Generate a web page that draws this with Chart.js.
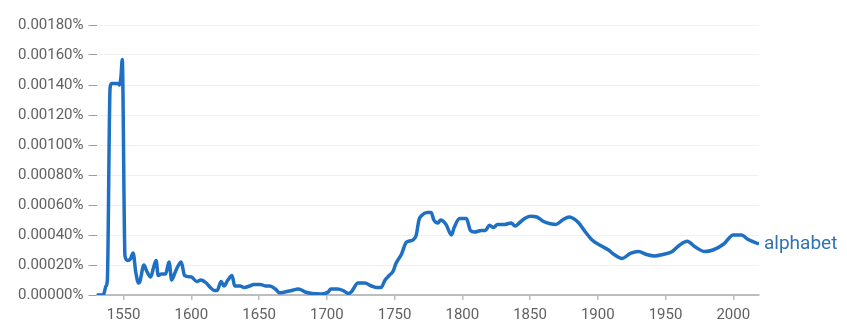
<!DOCTYPE html>
<html>
<head>
<meta charset="utf-8">
<script src="https://cdn.jsdelivr.net/npm/chart.js@4"></script>
<style>
  html, body { margin: 0; padding: 0; background: #fff; }
  #wrap { width: 847px; height: 335px; }
</style>
</head>
<body>
<div id="wrap"><canvas id="ngramChart"></canvas></div>
<script>
var seriesName = 'alphabet';

var years = [1530, 1535, 1537, 1538, 1540, 1541, 1546, 1547, 1548, 1549, 1551, 1553, 1555, 1557, 1559,
    1561, 1562, 1565, 1567, 1570, 1572, 1574, 1575.5, 1578, 1581, 1583.5, 1585.5, 1588, 1590, 1592.5,
    1595, 1600, 1604, 1607, 1611, 1614, 1617, 1619, 1622, 1624, 1627, 1630, 1632, 1636, 1639,
    1643, 1646, 1651, 1655, 1658, 1662, 1665, 1669, 1674, 1679, 1684, 1689, 1696, 1701, 1703,
    1708, 1712, 1716, 1718, 1723, 1728, 1733, 1737, 1740, 1743, 1746, 1749, 1751, 1755, 1758.5,
    1761, 1764, 1766, 1768, 1770, 1774, 1777, 1779, 1782, 1784, 1788, 1792, 1794, 1798, 1803,
    1806, 1809, 1814, 1817, 1820, 1823, 1826, 1831, 1836, 1839, 1842, 1846, 1850, 1855, 1860,
    1865, 1869, 1874, 1879, 1882, 1886, 1890, 1896, 1902, 1908, 1912, 1918, 1924, 1930, 1936,
    1942, 1948, 1955, 1960, 1966, 1972, 1979, 1985, 1993, 2000, 2006, 2011, 2019];

// percent values
var values = [0.0, 0.0, 0.00006, 0.0001, 0.00138, 0.00141, 0.00141, 0.0014, 0.00145, 0.00157, 0.00026, 0.00023, 0.00024, 0.00028, 0.00015,
    0.00008, 0.00009, 0.0002, 0.00016, 0.00012, 0.00018, 0.00023, 0.00013, 0.00014, 0.00014, 0.00022, 0.0001, 0.00015, 0.00019, 0.00022,
    0.00013, 0.00012, 0.00009, 0.0001, 0.00008, 0.00005, 0.00003, 0.00003, 0.00009, 0.00006, 0.0001, 0.00013, 0.00006, 0.00006, 0.00005,
    0.00006, 0.00007, 0.00007, 0.00006, 0.00006, 0.00004, 0.000015, 0.00002, 0.00003, 0.00004, 0.00002, 0.00001, 0.000007, 0.00002, 0.00004,
    0.00004, 0.00003, 0.00001, 0.00002, 0.00008, 0.00008, 0.00006, 0.00005, 0.00005, 0.0001, 0.00013, 0.00016, 0.00021, 0.00027, 0.00035,
    0.00036, 0.00037, 0.0004, 0.0005, 0.00053, 0.00055, 0.00055, 0.0005, 0.00048, 0.0005, 0.00047, 0.0004, 0.00045, 0.00051, 0.00051,
    0.00043, 0.00042, 0.00043, 0.00043, 0.000465, 0.00045, 0.00047, 0.00047, 0.00048, 0.00046, 0.00048, 0.00051, 0.000525, 0.00052, 0.00049,
    0.000475, 0.00047, 0.0005, 0.00052, 0.00051, 0.00048, 0.00043, 0.000365, 0.00033, 0.0003, 0.00027, 0.000244, 0.000277, 0.00029, 0.00027,
    0.00026, 0.00027, 0.00029, 0.00033, 0.000358, 0.00032, 0.00029, 0.0003, 0.00034, 0.0004, 0.0004, 0.00037, 0.00034];

var xTicks = [1550, 1600, 1650, 1700, 1750, 1800, 1850, 1900, 1950, 2000];
var yTicks = [0, 0.0002, 0.0004, 0.0006, 0.0008, 0.001, 0.0012, 0.0014, 0.0016, 0.0018];

var lineColor = '#1f6fc3';
var textGray = '#616161';

// series name drawn at the end of the line
var endLabel = {
    id: 'endLabel',
    afterDatasetsDraw: function(chart) {
        var meta = chart.getDatasetMeta(0);
        var last = meta.data[meta.data.length - 1];
        var ctx = chart.ctx;
        ctx.save();
        ctx.font = '19px Roboto';
        ctx.fillStyle = '#2f72b8';
        ctx.textAlign = 'left';
        ctx.textBaseline = 'middle';
        ctx.fillText(seriesName, last.x + 5, last.y);
        ctx.restore();
    }
};

new Chart(document.getElementById('ngramChart').getContext('2d'), {
    type: 'line',
    data: {
        datasets: [{
            label: seriesName,
            data: years.map(function(y, i) { return {x: y, y: values[i]}; }),
            borderColor: lineColor,
            borderWidth: 3.5,
            pointRadius: 0,
            cubicInterpolationMode: 'monotone',
            fill: false
        }]
    },
    options: {
        responsive: true,
        maintainAspectRatio: false,
        animation: false,
        layout: { padding: { left: 13, right: 88, top: 25, bottom: 5 } },
        plugins: {
            legend: { display: false },
            tooltip: { enabled: false }
        },
        scales: {
            x: {
                type: 'linear',
                min: 1530,
                max: 2019,
                afterBuildTicks: function(scale) {
                    scale.ticks = xTicks.map(function(v) { return {value: v}; });
                },
                ticks: {
                    color: textGray,
                    font: { family: 'Roboto', size: 15 },
                    padding: 6,
                    maxRotation: 0,
                    callback: function(v) { return String(v); }
                },
                grid: {
                    drawOnChartArea: false,
                    tickLength: 5,
                    tickColor: '#bdbdbd',
                    lineWidth: 1.5
                },
                border: { color: '#bdbdbd', width: 2 }
            },
            y: {
                min: 0,
                max: 0.0018,
                afterBuildTicks: function(scale) {
                    scale.ticks = yTicks.map(function(v) { return {value: v}; });
                },
                ticks: {
                    color: textGray,
                    font: { family: 'Roboto', size: 15 },
                    padding: 5,
                    callback: function(v) { return v.toFixed(5) + '%'; }
                },
                grid: {
                    color: '#f0f0f0',
                    tickColor: '#9e9e9e',
                    tickLength: 8,
                    lineWidth: 1
                },
                border: { display: false }
            }
        }
    },
    plugins: [endLabel]
});
</script>
</body>
</html>
